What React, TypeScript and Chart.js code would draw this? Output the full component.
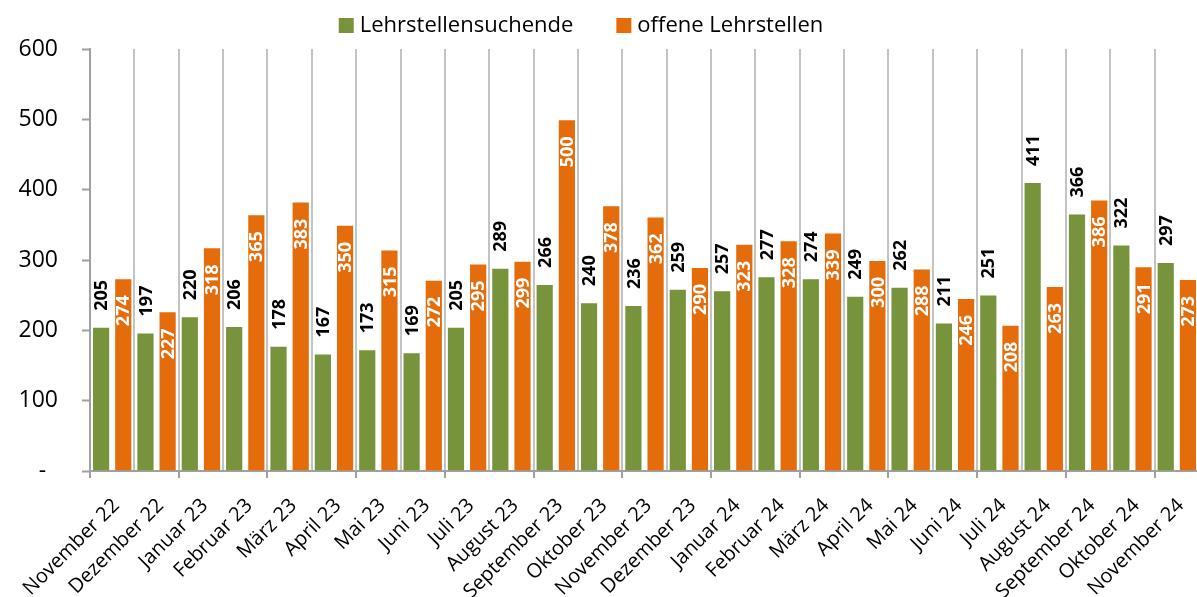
import React, { useEffect, useRef } from "react";
import { Chart, registerables } from "chart.js";

Chart.register(...registerables);

const categories = [
  "November 22", "Dezember 22", "Januar 23", "Februar 23", "März 23", "April 23",
  "Mai 23", "Juni 23", "Juli 23", "August 23", "September 23", "Oktober 23",
  "November 23", "Dezember 23", "Januar 24", "Februar 24", "März 24", "April 24",
  "Mai 24", "Juni 24", "Juli 24", "August 24", "September 24", "Oktober 24", "November 24",
];

const seriesNames = ["Lehrstellensuchende", "offene Lehrstellen"];

const suchende = [205, 197, 220, 206, 178, 167, 173, 169, 205, 289, 266, 240, 236, 259, 257, 277, 274, 249, 262, 211, 251, 411, 366, 322, 297];
const offene = [274, 227, 318, 365, 383, 350, 315, 272, 295, 299, 500, 378, 362, 290, 323, 328, 339, 300, 288, 246, 208, 263, 386, 291, 273];

const yTicks = [0, 100, 200, 300, 400, 500, 600];

const GREEN = "#77933C";
const ORANGE = "#E46C0A";
const FONT = "'Open Sans', 'DejaVu Sans', sans-serif";

const valueLabelPlugin = {
  id: "valueLabels",
  afterDatasetsDraw(chart: any) {
    const ctx = chart.ctx;
    ctx.save();
    ctx.font = `bold 18px ${FONT}`;
    ctx.textBaseline = "middle";
    chart.data.datasets.forEach((ds: any, di: number) => {
      const meta = chart.getDatasetMeta(di);
      meta.data.forEach((bar: any, i: number) => {
        const text = String(ds.data[i]);
        ctx.save();
        if (di === 0) {
          ctx.translate(bar.x, bar.y - 16);
          ctx.rotate(-Math.PI / 2);
          ctx.textAlign = "left";
          ctx.fillStyle = "#000000";
        } else {
          ctx.translate(bar.x, bar.y + 17);
          ctx.rotate(-Math.PI / 2);
          ctx.textAlign = "right";
          ctx.fillStyle = "#FFFFFF";
        }
        ctx.fillText(text, 0, 1);
        ctx.restore();
      });
    });
    ctx.restore();
  },
};

const legendPlugin = {
  id: "customLegend",
  afterDraw(chart: any) {
    const ctx = chart.ctx;
    ctx.save();
    ctx.font = `22px ${FONT}`;
    ctx.textBaseline = "alphabetic";
    ctx.textAlign = "left";
    const box = 15;
    const gapText = 6;
    const gapItem = 43;
    const widths = seriesNames.map((n) => ctx.measureText(n).width);
    const total = widths.reduce((a, w) => a + box + gapText + w, 0) + gapItem * (seriesNames.length - 1);
    let x = 581 - total / 2;
    const colors = [GREEN, ORANGE];
    seriesNames.forEach((n, i) => {
      ctx.fillStyle = colors[i];
      ctx.fillRect(x, 18, box, box);
      ctx.fillStyle = "#000000";
      ctx.fillText(n, x + box + gapText, 32);
      x += box + gapText + widths[i] + gapItem;
    });
    ctx.restore();
  },
};

export default function App() {
  const ref = useRef<HTMLCanvasElement | null>(null);

  useEffect(() => {
    if (!ref.current) return;
    const chart = new Chart(ref.current, {
      type: "bar",
      data: {
        labels: categories,
        datasets: [
          {
            label: seriesNames[0],
            data: suchende,
            backgroundColor: GREEN,
            borderColor: "rgba(255,255,255,0.45)",
            borderWidth: 1,
            categoryPercentage: 1,
            barPercentage: 0.82,
          },
          {
            label: seriesNames[1],
            data: offene,
            backgroundColor: ORANGE,
            borderColor: "rgba(255,255,255,0.45)",
            borderWidth: 1,
            categoryPercentage: 1,
            barPercentage: 0.82,
          },
        ],
      },
      options: {
        responsive: false,
        animation: false,
        layout: { padding: { top: 49, left: 0, right: 0, bottom: 0 } },
        plugins: {
          legend: { display: false },
          tooltip: { enabled: false },
        },
        scales: {
          x: {
            grid: {
              offset: true,
              color: "#C3C3C3",
              lineWidth: 2,
              tickLength: 7,
              tickWidth: 2,
              tickColor: (c: any) => (typeof c.index === "number" && c.index % 2 === 0 ? "#A0A0A0" : "rgba(0,0,0,0)"),
            },
            border: { color: "#A0A0A0", width: 2 },
            ticks: {
              autoSkip: false,
              minRotation: 45,
              maxRotation: 45,
              color: "#000000",
              padding: 16,
              labelOffset: 4,
              font: { family: FONT, size: 20 },
            },
            afterFit: (s: any) => {
              s.height = 126;
              s.paddingLeft = 0;
              s.paddingRight = 0;
            },
          },
          y: {
            min: 0,
            max: 600,
            afterBuildTicks: (s: any) => {
              s.ticks = yTicks.map((v) => ({ value: v }));
            },
            ticks: {
              color: "#000000",
              padding: 24,
              font: { family: FONT, size: 23 },
              callback: (v: any) => (Number(v) === 0 ? "-  " : String(v)),
            },
            grid: {
              drawOnChartArea: false,
              tickLength: 8,
              tickWidth: 2,
              tickColor: "#A0A0A0",
            },
            border: { color: "#A0A0A0", width: 2 },
            afterFit: (s: any) => {
              s.width = 90;
            },
          },
        },
      },
      plugins: [valueLabelPlugin, legendPlugin],
    });
    return () => chart.destroy();
  }, []);

  return (
    <div style={{ position: "absolute", left: 0, top: 0, width: 1197, height: 597, overflow: "hidden", background: "#fff" }}>
      <canvas ref={ref} width={1199} height={597} style={{ display: "block" }} />
    </div>
  );
}
